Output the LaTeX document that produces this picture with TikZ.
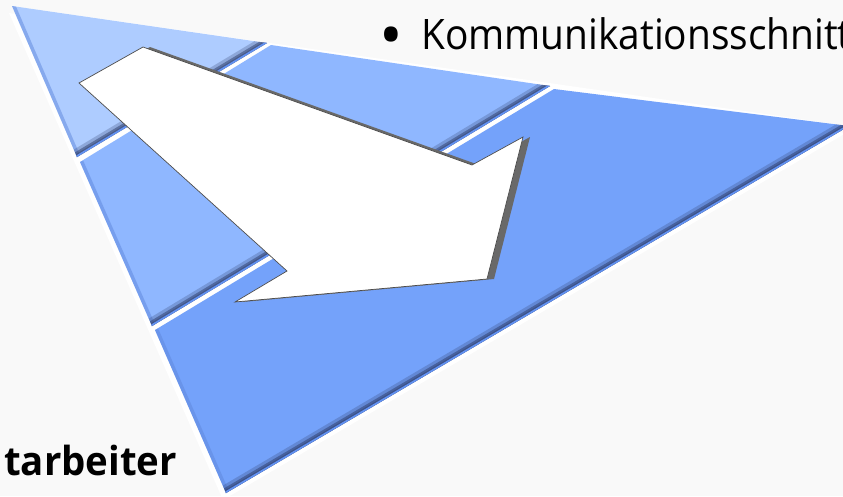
\documentclass[tikz,border=0pt]{standalone}
\usepackage{fontspec}
\setmainfont{Open Sans}
\usetikzlibrary{calc}
\definecolor{bgc}{RGB}{249,249,249}
\definecolor{pieceA}{RGB}{174,204,255}
\definecolor{pieceB}{RGB}{143,183,255}
\definecolor{pieceC}{RGB}{116,162,250}
\definecolor{bevdark}{RGB}{45,60,105}
\definecolor{bevside}{RGB}{95,135,220}
\definecolor{bevedge}{RGB}{98,145,240}
\definecolor{arrshadow}{RGB}{105,105,105}
\tikzset{
  darkband/.style={draw=bevdark, line width=16, draw opacity=0.25},
  darkcore/.style={draw=bevdark, line width=10, draw opacity=0.5},
  darkinner/.style={draw=bevdark, line width=6, draw opacity=0.4},
  edgestrip/.style={draw=bevedge, line width=3.5},
  sideband/.style={draw=bevside, line width=7, draw opacity=0.5},
  arrowbody/.style={fill=white, draw=black!70, line width=0.7, line join=miter},
  arrowshade/.style={fill=arrshadow},
  txt/.style={inner sep=0, anchor=base west, text=black}
}
\newcommand{\bevelpiece}[2]{%
  \draw[darkband] #1 -- #2;
  \draw[darkcore] #1 -- #2;
  \draw[darkinner] #1 -- #2;
  \draw[edgestrip] #1 -- #2;}
\begin{document}
\begin{tikzpicture}[x=1pt,y=-1pt]
\useasboundingbox (0,0) rectangle (843,496);
\clip (0,0) rectangle (843,496);
\fill[bgc] (0,0) rectangle (843,496);

% piece corners
\coordinate (A1) at (12,6);
\coordinate (A2) at (267,43);
\coordinate (A3) at (77,157);
\coordinate (B1) at (80,162);
\coordinate (B2) at (271,45);
\coordinate (B3) at (550,86);
\coordinate (B4) at (152,326);
\coordinate (C1) at (155,330);
\coordinate (C2) at (554,89);
\coordinate (C3) at (849,126);
\coordinate (C4) at (226,493);

% white halo and gaps
\fill[white] ($(A1)+(-3,7)$) -- ($(C3)+(-3,7)$) -- ($(C4)+(-3,7)$) -- cycle;
\fill[white] (A1) -- (C3) -- (C4) -- cycle;

% piece A
\fill[pieceA] (A1) -- (A2) -- (A3) -- cycle;
\begin{scope}
  \clip (A1) -- (A2) -- (A3) -- cycle;
  \draw[sideband] (A1) -- (A3);
  \bevelpiece{($(A2)!-0.2!(A3)$)}{($(A3)!-0.2!(A2)$)}
\end{scope}

% piece B
\fill[pieceB] (B1) -- (B2) -- (B3) -- (B4) -- cycle;
\begin{scope}
  \clip (B1) -- (B2) -- (B3) -- (B4) -- cycle;
  \draw[sideband] (B1) -- (B4);
  \bevelpiece{($(B3)!-0.2!(B4)$)}{($(B4)!-0.2!(B3)$)}
\end{scope}

% piece C
\fill[pieceC] (C1) -- (C2) -- (C3) -- (C4) -- cycle;
\begin{scope}
  \clip (C1) -- (C2) -- (C3) -- (C4) -- cycle;
  \draw[sideband] (C1) -- (C4);
  \bevelpiece{($(C3)!-0.2!(C4)$)}{($(C4)!-0.2!(C3)$)}
\end{scope}

% arrow
\coordinate (T1) at (143,47);
\coordinate (S1) at (472,165);
\coordinate (H1) at (523,137);
\coordinate (P)  at (487,279);
\coordinate (H2) at (235,302);
\coordinate (S2) at (287,271);
\coordinate (T2) at (79,83);
\coordinate (off) at (7,0);
\fill[arrowshade] ($(T1)+(off)$) -- ($(S1)+(off)$) -- ($(H1)+(off)$) -- ($(P)+(off)$) -- ($(H2)+(off)$) -- ($(S2)+(off)$) -- ($(T2)+(off)$) -- cycle;
\filldraw[arrowbody] (T1) -- (S1) -- (H1) -- (P) -- (H2) -- (S2) -- (T2) -- cycle;

% texts
\node[txt, font=\fontsize{42}{50}\selectfont] (gfrag) at (651,-13) {g};
\node[inner sep=0, anchor=center] (bul) at (391,42) {\scalebox{1.5}{\fontsize{42}{50}\selectfont •}};
\node[txt, font=\fontsize{42}{50}\selectfont] (komm) at (421,49) {\scalebox{0.925}[1]{Kommunikationsschnitt}};
\node[txt, font=\fontsize{40}{50}\selectfont\bfseries] (mit) at (4,475) {\scalebox{0.96}[1]{tarbeiter}};
\end{tikzpicture}
\end{document}
